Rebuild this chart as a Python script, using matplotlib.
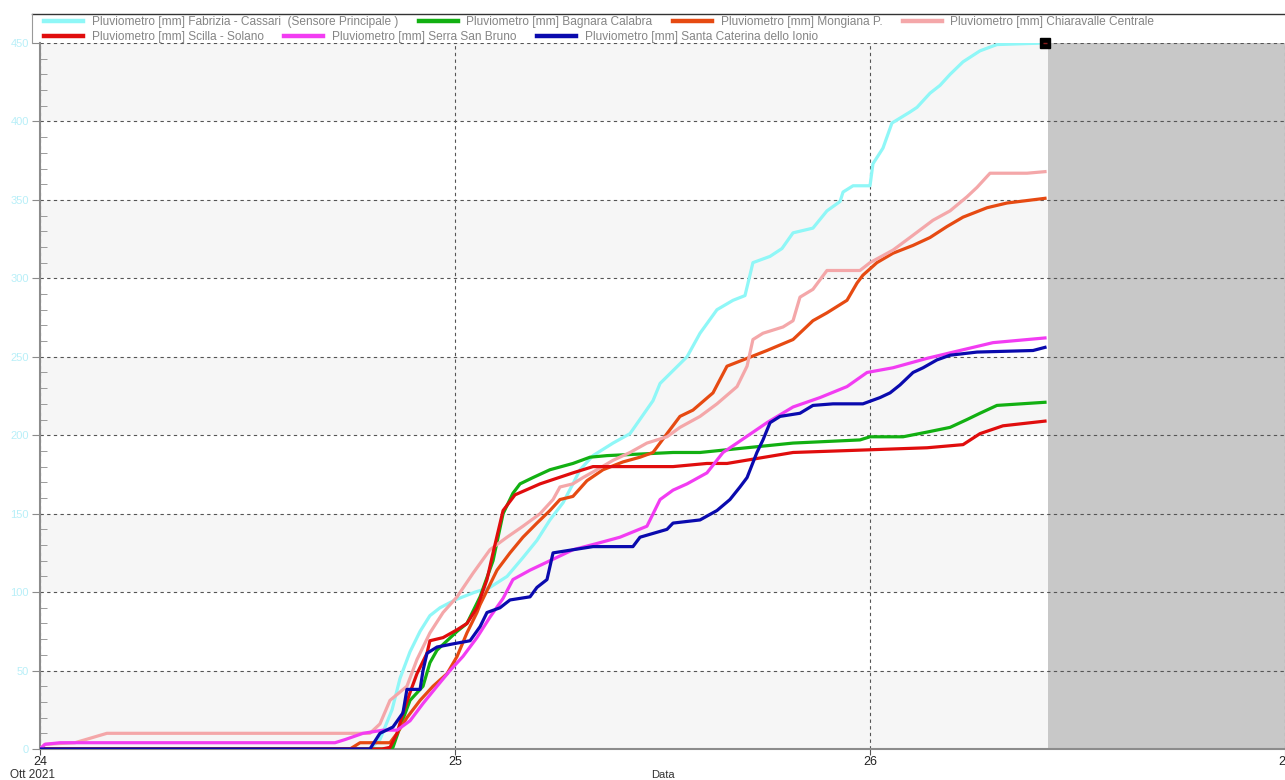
import matplotlib
matplotlib.use("Agg")
import matplotlib.pyplot as plt
from matplotlib.lines import Line2D
from matplotlib.ticker import MultipleLocator

plt.rcParams['font.family'] = ['Liberation Sans', 'DejaVu Sans']

# ore dal 24 Ott 2021 00:00 / pioggia cumulata [mm]
fabrizia_h = [0, 19.08, 19.66, 20.36, 20.82, 21.40, 21.98, 22.55, 23.13, 24.00, 25.16, 26.02, 27.01, 27.93,
              28.74, 29.49, 30.25, 30.82, 31.23, 31.98, 33.14, 34.12, 35.45, 35.86, 37.42, 38.17, 39.15, 40.08,
              40.77, 41.23, 42.22, 42.91, 43.55, 44.70, 45.51, 46.27, 46.44, 47.02, 48.00, 48.17, 48.75, 49.27,
              50.31, 50.72, 51.47, 52.05, 52.63, 53.38, 54.36, 55.34, 58.10]
fabrizia_mm = [0, 0, 6, 25, 45, 62, 75, 85, 90, 95, 100, 103, 110, 122,
               133, 146, 157, 169, 178, 187, 195, 201, 222, 233, 250, 265, 280, 286,
               289, 310, 314, 319, 329, 332, 343, 349, 355, 359, 359, 373, 383, 399,
               406, 409, 418, 423, 430, 438, 445, 449, 450]

bagnara_h = [0, 19.95, 20.41, 20.82, 21.40, 22.15, 22.55, 22.96, 23.54, 24.12, 24.69, 25.45, 26.20, 26.78,
             27.35, 27.76, 28.51, 29.49, 30.82, 31.81, 32.79, 36.61, 38.17, 43.55, 47.42, 48.00, 49.91, 51.30,
             52.63, 53.61, 54.36, 55.34, 58.12]
bagnara_mm = [0, 0, 1, 14, 31, 40, 55, 63, 69, 75, 80, 97, 120, 150,
              163, 169, 173, 178, 182, 186, 187, 189, 189, 195, 197, 199, 199, 202,
              205, 210, 214, 219, 221]

mongiana_h = [0, 17.93, 18.51, 20.24, 20.65, 21.22, 21.98, 22.73, 23.54, 24.12, 24.69, 25.27, 25.45, 26.43,
              27.18, 27.93, 28.74, 29.49, 30.07, 30.82, 31.63, 32.56, 33.72, 34.70, 35.45, 36.26, 37.01, 37.76,
              38.92, 39.73, 40.89, 42.04, 43.55, 44.70, 45.51, 46.67, 47.25, 47.59, 48.40, 49.33, 50.49, 51.47,
              52.45, 53.38, 54.77, 55.92, 58.12]
mongiana_mm = [0, 0, 4, 4, 10, 20, 31, 40, 48, 59, 74, 87, 92, 114,
               125, 135, 144, 152, 159, 161, 171, 178, 183, 186, 189, 201, 212, 216,
               227, 244, 249, 254, 261, 273, 278, 286, 297, 302, 310, 316, 321, 326,
               333, 339, 345, 348, 351]

chiaravalle_h = [0, 0.29, 2.02, 3.87, 19.08, 19.66, 20.24, 21.22, 21.80, 22.55, 23.31, 24.12, 25.04, 26.02,
                 27.01, 27.93, 28.92, 29.67, 30.07, 30.82, 31.40, 32.21, 33.14, 34.12, 35.10, 36.26, 37.01,
                 38.17, 39.15, 40.31, 40.89, 41.23, 41.81, 42.97, 43.55, 43.95, 44.70, 45.51, 47.42, 48.00,
                 49.33, 50.31, 51.64, 52.63, 53.61, 54.19, 54.94, 57.08, 58.12]
chiaravalle_mm = [0, 3, 4, 10, 10, 16, 31, 40, 57, 74, 87, 97, 112, 127,
                  135, 142, 150, 159, 167, 169, 173, 178, 184, 189, 195, 199, 205,
                  212, 220, 231, 244, 261, 265, 269, 273, 288, 293, 305, 305, 310,
                  318, 326, 337, 343, 352, 358, 367, 367, 368]

scilla_h = [0, 19.78, 20.24, 20.65, 20.99, 21.40, 21.80, 22.38, 22.55, 23.31, 24.12, 24.69, 25.27, 25.85,
            26.20, 26.78, 27.47, 28.92, 30.82, 31.98, 36.61, 38.57, 39.73, 43.55, 51.30, 53.38, 54.36, 55.69,
            58.12]
scilla_mm = [0, 0, 1, 10, 23, 36, 48, 61, 69, 71, 76, 80, 90, 108,
             125, 152, 162, 169, 176, 180, 180, 182, 182, 189, 192, 194, 201, 206,
             209]

serra_h = [0, 0.29, 1.16, 17.06, 17.64, 18.68, 19.84, 20.65, 21.40, 22.15, 22.96, 23.71, 24.46, 25.27,
           26.02, 26.78, 27.35, 28.34, 29.49, 30.82, 32.21, 33.54, 35.10, 35.86, 36.61, 37.42, 38.57, 39.50,
           40.31, 42.04, 43.55, 45.11, 46.67, 47.83, 49.33, 51.30, 53.20, 55.11, 58.12]
serra_mm = [0, 3, 4, 4, 6, 10, 12, 12, 18, 29, 40, 50, 59, 71,
            84, 96, 108, 114, 120, 127, 131, 135, 142, 159, 165, 169, 176, 189,
            195, 208, 218, 224, 231, 240, 243, 249, 254, 259, 262]

caterina_h = [0, 19.08, 19.66, 20.41, 20.99, 21.22, 21.98, 22.15, 22.38, 22.96, 23.88, 24.87, 25.45, 25.85,
              26.60, 27.18, 28.34, 28.74, 29.32, 29.67, 30.82, 31.98, 34.29, 34.70, 36.26, 36.61, 38.17, 39.15,
              39.90, 40.48, 40.89, 41.46, 41.81, 42.22, 42.80, 43.95, 44.70, 45.86, 47.59, 48.58, 49.16, 49.73,
              50.49, 51.07, 51.87, 52.63, 54.19, 57.43, 58.12]
caterina_mm = [0, 0, 10, 14, 23, 38, 38, 50, 61, 65, 67, 69, 78, 87,
               90, 95, 97, 103, 108, 125, 127, 129, 129, 135, 140, 144, 146, 152,
               159, 167, 173, 189, 197, 208, 212, 214, 219, 220, 220, 224, 227, 232,
               240, 243, 248, 251, 253, 254, 256]

now_h = 58.3  # fine dati (zona grigia)

series = [
    ("Pluviometro [mm] Fabrizia - Cassari  (Sensore Principale )", fabrizia_h, fabrizia_mm, "#8ff7f7"),
    ("Pluviometro [mm] Bagnara Calabra", bagnara_h, bagnara_mm, "#12b012"),
    ("Pluviometro [mm] Mongiana P.", mongiana_h, mongiana_mm, "#e64a12"),
    ("Pluviometro [mm] Chiaravalle Centrale", chiaravalle_h, chiaravalle_mm, "#f4a7a9"),
    ("Pluviometro [mm] Scilla - Solano", scilla_h, scilla_mm, "#e00d0d"),
    ("Pluviometro [mm] Serra San Bruno", serra_h, serra_mm, "#f23cf2"),
    ("Pluviometro [mm] Santa Caterina dello Ionio", caterina_h, caterina_mm, "#0a0aae"),
]

W, H = 1285, 780
fig = plt.figure(figsize=(W / 100, H / 100), dpi=100)
ax = fig.add_axes([40 / W, 1 - 749 / H, 1245 / W, 706 / H])
ax.set_xlim(24, 27)
ax.set_ylim(0, 450)

# bande alternate
for lo in range(0, 450, 100):
    ax.axhspan(lo, lo + 50, color="#f6f6f6", lw=0, zorder=0.1)
ax.axvspan(24 + now_h / 24, 27, color="#c8c8c8", lw=0, zorder=0.2)

ax.grid(True, which="major", color="#555555", linestyle=(0, (3, 3)), linewidth=0.8)

handles = []
for label, hrs, mm, color in series:
    days = [24 + h / 24 for h in hrs]
    ax.plot(days, mm, color=color, lw=2.3, label=label, zorder=3, solid_joinstyle="round")
    handles.append(Line2D([], [], color=color, lw=3.2))

# cursore finale
ax.plot(24 + fabrizia_h[-1] / 24, fabrizia_mm[-1], marker="s", ms=6.5, mfc="black", mec="black",
        zorder=5, clip_on=False)
ax.plot(24 + fabrizia_h[-1] / 24, fabrizia_mm[-1], marker="_", ms=3, mec="#8a1a1a", mew=1,
        zorder=6, clip_on=False)

for s in ["top", "right"]:
    ax.spines[s].set_visible(False)
for s in ["left", "bottom"]:
    ax.spines[s].set_color("#8c8c8c")
    ax.spines[s].set_linewidth(1.5)

ax.yaxis.set_major_locator(MultipleLocator(50))
ax.yaxis.set_minor_locator(MultipleLocator(10))
ax.tick_params(axis="y", which="major", direction="out", length=6, color="#8c8c8c",
               labelcolor="#b8eff8", labelsize=8, pad=2)
ax.tick_params(axis="y", which="minor", direction="in", length=5, color="#8c8c8c")
ax.set_xticks([24, 25, 26, 27])
ax.set_xticklabels(["24", "25", "26", "27"])
ax.tick_params(axis="x", direction="out", length=4, color="#555555", labelsize=9,
               labelcolor="#222222", pad=1)
ax.set_xlabel("Data", fontsize=8, color="#333333", va="center")
ax.xaxis.set_label_coords(0.5, -26 / 706)
ax.annotate("Ott 2021", xy=(24, 0), xycoords="data", xytext=(-8, -26), textcoords="offset pixels",
            ha="center", va="center", fontsize=8.5, color="#333333", annotation_clip=False)

# legenda su due righe
leg_kw = dict(loc="upper left", frameon=False, borderpad=0, borderaxespad=0, handlelength=3.3,
              handletextpad=0.7, columnspacing=1.75, fontsize=8.55, labelcolor="#858585")
fig.legend(handles[:4], [s[0] for s in series[:4]], ncol=4, bbox_to_anchor=(44 / W, 1 - 16 / H), **leg_kw)
fig.legend(handles[4:], [s[0] for s in series[4:]], ncol=3, bbox_to_anchor=(44 / W, 1 - 31 / H), **leg_kw)
fig.add_artist(Line2D([32 / W, 1], [1 - 14 / H, 1 - 14 / H], color="#333333", lw=1))
fig.add_artist(Line2D([32 / W, 32 / W], [1 - 14 / H, 1 - 43 / H], color="#999999", lw=0.8))

fig.savefig("out.png", dpi=100)
